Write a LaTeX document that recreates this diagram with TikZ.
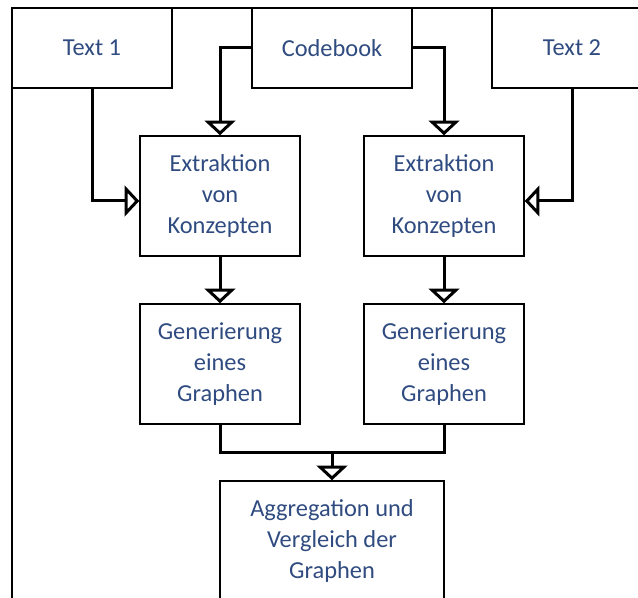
\documentclass[tikz,border=0pt]{standalone}
\usepackage{fontspec}
\setmainfont{Carlito}
\usetikzlibrary{arrows.meta}
\definecolor{textblue}{RGB}{47,75,128}

\begin{document}
\begin{tikzpicture}[x=0.75pt,y=-0.75pt,
	box/.style={draw,line width=1.1pt,align=center,text=textblue,
		font=\fontsize{18.3}{23}\selectfont,minimum width=120pt},
	flow/.style={line width=2.25pt,
		-{Triangle[open,width=23pt,length=11pt,line width=2.25pt]}},
	mergeline/.style={line width=2.25pt}]
		\clip (0,0) rectangle (638,598);
		% Rahmen
		\draw[line width=1.4pt] (12,620) -- (12,8) -- (660,8);
		% Eingaben
		\node[box,minimum height=60pt] (text1) at (92,48) {Text 1};
		\node[box,minimum height=60pt] (code) at (332,48) {Codebook};
		\node[box,minimum height=60pt] (text2) at (572,48) {Text 2};
		% Verarbeitung
		\node[box,minimum height=90pt] (ex1) at (220,196) {Extraktion\\von\\Konzepten};
		\node[box,minimum height=90pt] (ex2) at (444,196) {Extraktion\\von\\Konzepten};
		\node[box,minimum height=90pt] (gen1) at (220,364) {Generierung\\eines\\Graphen};
		\node[box,minimum height=90pt] (gen2) at (444,364) {Generierung\\eines\\Graphen};
		\node[box,minimum height=90pt,minimum width=168pt] (agg) at (332,541) {Aggregation und\\Vergleich der\\Graphen};
		\coordinate (merge) at (332,452);
		% Verbindungen
		\draw[flow] (text1.south) |- ([yshift=-3.75pt]ex1.west);
		\draw[flow] (text2.south) |- ([yshift=-3.75pt]ex2.east);
		\draw[flow] (code.west) -| (ex1.north);
		\draw[flow] (code.east) -| (ex2.north);
		\draw[flow] (ex1) -- (gen1);
		\draw[flow] (ex2) -- (gen2);
		\draw[mergeline] (gen1.south) |- (merge) -| (gen2.south);
		\draw[flow] (merge) -- (agg.north);
\end{tikzpicture}
\end{document}
